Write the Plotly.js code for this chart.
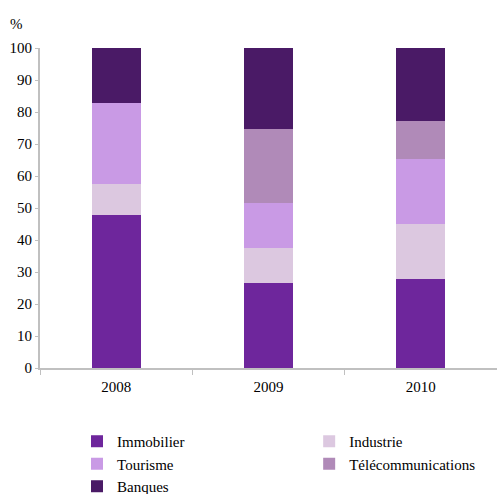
<!DOCTYPE html>
<html>
<head>
<meta charset="utf-8">
<script src="https://cdn.plot.ly/plotly-3.0.1.min.js"></script>
<style>html,body{margin:0;padding:0;background:#fff;}#chart{width:497px;height:494px;}</style>
</head>
<body>
<div id="chart"></div>
<script>
const years = ['2008', '2009', '2010'];
const immobilier = [47.8, 26.5, 27.7];
const industrie = [9.7, 10.9, 17.2];
const tourisme = [25.3, 14.1, 20.4];
const telecommunications = [0, 23.2, 11.9];
const banques = [17.2, 25.3, 22.8];
const seriesNames = ['Immobilier', 'Industrie', 'Tourisme', 'Télécommunications', 'Banques'];
const seriesValues = [immobilier, industrie, tourisme, telecommunications, banques];
const seriesColors = ['#6e269c', '#dcc8e0', '#c99ae5', '#b08ab8', '#4a1a66'];
const seriesLegend = ['legend', 'legend2', 'legend', 'legend2', 'legend'];
const yTicks = [0, 10, 20, 30, 40, 50, 60, 70, 80, 90, 100];

const font = 'Liberation Serif';
const traces = seriesNames.map((name, i) => ({
  type: 'bar',
  name: name,
  x: years,
  y: seriesValues[i],
  legend: seriesLegend[i],
  marker: {color: seriesColors[i], line: {width: 0}},
  hoverinfo: 'x+y+name'
}));

const legendBase = {
  orientation: 'v',
  xref: 'paper',
  yref: 'container',
  xanchor: 'left',
  yanchor: 'top',
  y: 0.1397,
  traceorder: 'normal',
  itemgap: 0,
  font: {family: font, size: 15, color: '#000'},
  bgcolor: 'rgba(0,0,0,0)',
  borderwidth: 0
};

const layout = {
  width: 497,
  height: 494,
  margin: {l: 40, r: 0, t: 48, b: 126},
  barmode: 'stack',
  bargap: 0.68,
  paper_bgcolor: '#ffffff',
  plot_bgcolor: '#ffffff',
  font: {family: font, size: 15, color: '#000000'},
  xaxis: {
    type: 'category',
    showline: true,
    linecolor: '#c0c0c0',
    linewidth: 2,
    ticks: 'outside',
    tickson: 'boundaries',
    ticklen: 5,
    ticklabelstandoff: 4,
    tickcolor: '#c0c0c0',
    tickwidth: 1,
    showgrid: false,
    zeroline: false,
    tickfont: {family: font, size: 15, color: '#000'}
  },
  yaxis: {
    range: [0, 100],
    tickvals: yTicks,
    ticktext: yTicks.map(String),
    showline: true,
    linecolor: '#c0c0c0',
    linewidth: 2,
    ticks: 'outside',
    ticklen: 3,
    tickcolor: '#c0c0c0',
    showgrid: false,
    zeroline: false,
    tickfont: {family: font, size: 15, color: '#000'}
  },
  showlegend: true,
  legend: Object.assign({}, legendBase, {x: 0.081}),
  legend2: Object.assign({}, legendBase, {x: 0.589}),
  annotations: [{
    text: '%',
    xref: 'paper', yref: 'paper',
    x: -0.0525, y: 1.075,
    xanchor: 'center', yanchor: 'middle',
    showarrow: false,
    font: {family: font, size: 15, color: '#000'}
  }]
};

Plotly.newPlot('chart', traces, layout, {displayModeBar: false, staticPlot: true});
</script>
</body>
</html>
